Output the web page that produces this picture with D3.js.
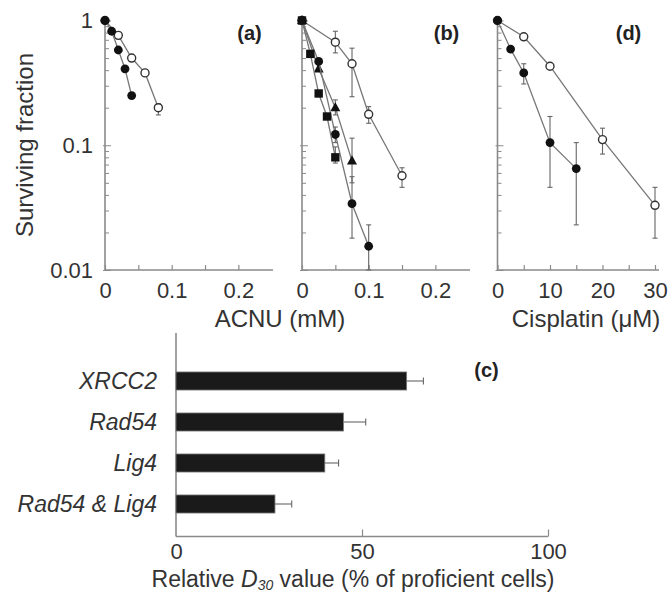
<!DOCTYPE html>
<html><head><meta charset="utf-8">
<script src="https://cdn.jsdelivr.net/npm/d3@7"></script>
<style>
body{margin:0;background:#fff;}
svg{display:block;font-family:Arial,"Liberation Sans",Helvetica,sans-serif;}
</style></head>
<body><svg id="c" width="670" height="593"></svg>
<script>
// ---------- Data ----------
// Panel (a): ACNU (mM)
const aFilledDose = [0, 0.01, 0.02, 0.03, 0.04];
const aFilledSF   = [1, 0.82, 0.58, 0.41, 0.25];
const aOpenDose   = [0, 0.02, 0.04, 0.06, 0.08];
const aOpenSF     = [1, 0.76, 0.50, 0.38, 0.20];
const aOpenLo     = [null, null, null, null, 0.175];
const aOpenHi     = [null, null, null, null, 0.215];

// Panel (b): ACNU (mM)
const bOpenDose   = [0, 0.05, 0.075, 0.1, 0.15];
const bOpenSF     = [1, 0.67, 0.45, 0.177, 0.057];
const bOpenLo     = [null, 0.55, 0.245, 0.15, 0.046];
const bOpenHi     = [null, 0.82, 0.60, 0.204, 0.066];
const bCircDose   = [0, 0.025, 0.05, 0.075, 0.1];
const bCircSF     = [1, 0.47, 0.122, 0.034, 0.0155];
const bCircLo     = [null, null, 0.105, 0.018, 0.01];
const bCircHi     = [null, null, 0.14, 0.056, 0.023];
const bSqDose     = [0, 0.0125, 0.025, 0.0375, 0.05];
const bSqSF       = [1, 0.54, 0.26, 0.17, 0.08];
const bSqLo       = [null, null, null, null, 0.072];
const bSqHi       = [null, null, null, null, 0.097];
const bTriDose    = [0, 0.025, 0.05, 0.075];
const bTriSF      = [1, 0.41, 0.20, 0.075];
const bTriLo      = [null, null, 0.175, 0.050];
const bTriHi      = [null, null, 0.231, 0.114];

// Panel (d): Cisplatin (uM)
const dOpenDose   = [0, 5, 10, 20, 30];
const dOpenSF     = [1, 0.74, 0.43, 0.111, 0.033];
const dOpenLo     = [null, null, null, 0.085, 0.018];
const dOpenHi     = [null, null, null, 0.137, 0.046];
const dFilledDose = [0, 2.5, 5, 10, 15];
const dFilledSF   = [1, 0.59, 0.38, 0.105, 0.065];
const dFilledLo   = [null, null, 0.31, 0.046, 0.023];
const dFilledHi   = [null, null, 0.45, 0.17, 0.105];

// Panel (c): relative D30
const cCategories = ["XRCC2", "Rad54", "Lig4", "Rad54 & Lig4"];
const cValues     = [62, 45, 40, 26.6];
const cErrors     = [4.5, 6, 3.7, 4.5];

// Tick labels
const yTickLabels  = [1, 0.1, 0.01];
const acnuTicks    = [0, 0.05, 0.1, 0.15, 0.2];
const acnuLabels   = [0, 0.1, 0.2];
const cisTicks     = [0, 5, 10, 15, 20, 25, 30];
const cisLabels    = [0, 10, 20, 30];
const barTicks     = [0, 50, 100];

// ---------- Drawing ----------
const svg = d3.select("#c");
const AX = "#8a8a8a", TXT = "#333", LN = "#777";

const y = d3.scaleLog().domain([0.01, 1]).range([270, 20.5]);
const xA = d3.scaleLinear().domain([0, 0.25]).range([105, 271.7]);
const xB = d3.scaleLinear().domain([0, 0.25]).range([302, 468.7]);
const xD = d3.scaleLinear().domain([0, 30]).range([497.5, 655]);

const minorTicks = [];
[0.01, 0.1].forEach(d => { for (let k = 1; k <= 9; k++) minorTicks.push(+(d * k).toPrecision(3)); });
minorTicks.push(1);

function yAxis(x0, labels) {
  const g = svg.append("g").attr("transform", `translate(${x0},0)`);
  g.call(d3.axisLeft(y).tickValues(minorTicks).tickSize(-4).tickPadding(12)
    .tickFormat(d => (labels && yTickLabels.includes(d)) ? String(d) : ""));
  g.select(".domain").remove();
  g.append("line").attr("x1", 0).attr("x2", 0).attr("y1", 18).attr("y2", y(0.01))
    .attr("stroke", AX).attr("stroke-width", 1.6);
  g.selectAll(".tick line").attr("stroke", AX).attr("stroke-width", 1)
    .filter(d => yTickLabels.includes(d)).attr("x1", -2).attr("x2", 6);
  g.selectAll(".tick text").attr("fill", TXT).style("font-size", "22px").style("font-family", "Arial, 'Liberation Sans', sans-serif");
}

function xAxis(scale, ticks, labels, xEnd) {
  const g = svg.append("g").attr("transform", `translate(0,${y(0.01)})`);
  g.call(d3.axisBottom(scale).tickValues(ticks).tickSize(-5).tickPadding(12)
    .tickFormat(d => labels.includes(d) ? String(d) : ""));
  g.select(".domain").remove();
  g.append("line").attr("x1", scale.range()[0]).attr("x2", xEnd).attr("y1", 0).attr("y2", 0)
    .attr("stroke", AX).attr("stroke-width", 1.6);
  g.selectAll(".tick line").attr("stroke", AX).attr("stroke-width", 1.2);
  g.selectAll(".tick text").attr("fill", TXT).style("font-size", "22px").style("font-family", "Arial, 'Liberation Sans', sans-serif");
}

yAxis(xA(0), true);
yAxis(xB(0), false);
yAxis(xD(0), false);
xAxis(xA, acnuTicks, acnuLabels, 273);
xAxis(xB, acnuTicks, acnuLabels, 470);
xAxis(xD, cisTicks, cisLabels, 659);

function series(xs, dose, sf, lo, hi, shape) {
  const pts = dose.map((d, i) => ({ x: d, y: sf[i], lo: lo ? lo[i] : null, hi: hi ? hi[i] : null }));
  const line = d3.line().x(d => xs(d.x)).y(d => y(d.y));
  svg.append("path").datum(pts).attr("d", line).attr("fill", "none")
    .attr("stroke", LN).attr("stroke-width", 1.3);
  const eb = svg.append("g").attr("stroke", "#666").attr("stroke-width", 1.1);
  pts.filter(p => p.lo != null).forEach(p => {
    const cx = xs(p.x);
    eb.append("line").attr("x1", cx).attr("x2", cx).attr("y1", y(p.hi)).attr("y2", y(p.lo));
    eb.append("line").attr("x1", cx - 2.5).attr("x2", cx + 2.5).attr("y1", y(p.hi)).attr("y2", y(p.hi));
    eb.append("line").attr("x1", cx - 2.5).attr("x2", cx + 2.5).attr("y1", y(p.lo)).attr("y2", y(p.lo));
  });
  const g = svg.append("g");
  pts.forEach(p => {
    const cx = xs(p.x), cy = y(p.y);
    if (shape === "open") {
      g.append("circle").attr("cx", cx).attr("cy", cy).attr("r", 4)
        .attr("fill", "#fff").attr("stroke", "#333").attr("stroke-width", 1.4);
    } else if (shape === "filled") {
      g.append("circle").attr("cx", cx).attr("cy", cy).attr("r", 4.4).attr("fill", "#111");
    } else if (shape === "square") {
      g.append("rect").attr("x", cx - 4.2).attr("y", cy - 4.2).attr("width", 8.4).attr("height", 8.4).attr("fill", "#111");
    } else if (shape === "triangle") {
      g.append("path").attr("d", `M${cx},${cy - 5.5}L${cx + 5},${cy + 3.6}L${cx - 5},${cy + 3.6}Z`).attr("fill", "#111");
    }
  });
}

series(xA, aOpenDose, aOpenSF, aOpenLo, aOpenHi, "open");
series(xA, aFilledDose, aFilledSF, null, null, "filled");
series(xB, bOpenDose, bOpenSF, bOpenLo, bOpenHi, "open");
series(xB, bTriDose, bTriSF, bTriLo, bTriHi, "triangle");
series(xB, bCircDose, bCircSF, bCircLo, bCircHi, "filled");
series(xB, bSqDose, bSqSF, bSqLo, bSqHi, "square");
series(xD, dOpenDose, dOpenSF, dOpenLo, dOpenHi, "open");
series(xD, dFilledDose, dFilledSF, dFilledLo, dFilledHi, "filled");

// Axis titles & panel labels
svg.append("text").attr("transform", "translate(33,145) rotate(-90)").attr("text-anchor", "middle")
  .attr("fill", TXT).style("font-size", "24px").text("Surviving fraction");
svg.append("text").attr("x", 280).attr("y", 327).attr("text-anchor", "middle")
  .attr("fill", TXT).style("font-size", "24px").text("ACNU (mM)");
svg.append("text").attr("x", 586).attr("y", 327).attr("text-anchor", "middle")
  .attr("fill", TXT).style("font-size", "24px").text("Cisplatin (\u03BCM)");
[["(a)", 249.5, 40], ["(b)", 446.5, 40], ["(d)", 628.5, 40], ["(c)", 486.5, 377]].forEach(([t, x0, y0]) => {
  svg.append("text").attr("x", x0).attr("y", y0).attr("text-anchor", "middle")
    .attr("fill", "#222").style("font-size", "20px").style("font-weight", "bold").text(t);
});

// ---------- Panel (c): bar chart ----------
const xC = d3.scaleLinear().domain([0, 100]).range([176, 548]);
const yC = d3.scaleBand().domain(cCategories).range([360.5, 524.5]).paddingInner(0.56).paddingOuter(0.28);
const baseY = 536.5;

const gx = svg.append("g").attr("transform", `translate(0,${baseY})`);
gx.call(d3.axisBottom(xC).tickValues(barTicks).tickSize(-7).tickPadding(7).tickFormat(d3.format("d")));
gx.select(".domain").remove();
gx.append("line").attr("x1", xC(0)).attr("x2", xC(100)).attr("stroke", AX).attr("stroke-width", 1.6);
gx.selectAll(".tick line").attr("stroke", AX).attr("stroke-width", 1.2).filter(d => d === 0).remove();
gx.selectAll(".tick text").attr("fill", TXT).style("font-size", "22px").style("font-family", "Arial, 'Liberation Sans', sans-serif");

svg.append("line").attr("x1", xC(0)).attr("x2", xC(0)).attr("y1", 333).attr("y2", baseY)
  .attr("stroke", AX).attr("stroke-width", 1.6);

cCategories.forEach((c, i) => {
  const by = yC(c), bh = yC.bandwidth(), cy = by + bh / 2;
  const xe = xC(cValues[i] + cErrors[i]);
  svg.append("line").attr("x1", xC(cValues[i])).attr("x2", xe).attr("y1", cy).attr("y2", cy)
    .attr("stroke", "#666").attr("stroke-width", 1.1);
  svg.append("line").attr("x1", xe).attr("x2", xe).attr("y1", cy - 3.5).attr("y2", cy + 3.5)
    .attr("stroke", "#666").attr("stroke-width", 1.1);
  svg.append("rect").attr("x", xC(0)).attr("y", by).attr("width", xC(cValues[i]) - xC(0)).attr("height", bh)
    .attr("fill", "#1a1a1a").attr("stroke", "#777").attr("stroke-width", 0.8);
  svg.append("text").attr("x", 157).attr("y", cy).attr("dy", "0.36em").attr("text-anchor", "end")
    .attr("fill", TXT).style("font-size", "23px").style("font-style", "italic").text(c);
});

const xl = svg.append("text").attr("x", 353).attr("y", 587).attr("text-anchor", "middle")
  .attr("fill", TXT).style("font-size", "23px");
xl.append("tspan").text("Relative ");
xl.append("tspan").style("font-style", "italic").text("D");
xl.append("tspan").style("font-style", "italic").style("font-size", "14px").attr("dy", 3).text("30");
xl.append("tspan").attr("dy", -3).text(" value (% of proficient cells)");
</script></body></html>
